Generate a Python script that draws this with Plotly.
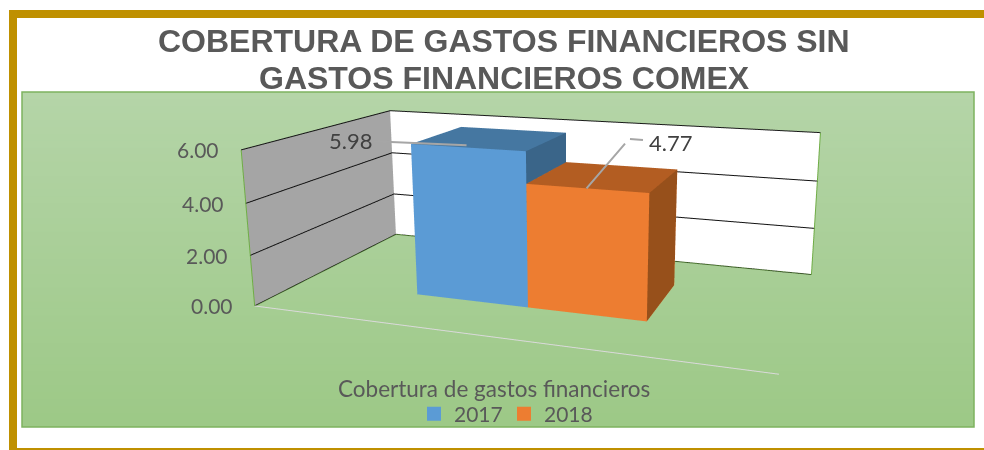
import numpy as np
import plotly.graph_objects as go

years = ["2017", "2018"]
values = [5.98, 4.77]
z_ticks = [0, 2, 4, 6]
title_lines = ["COBERTURA DE GASTOS FINANCIEROS SIN", "GASTOS FINANCIEROS COMEX"]
category = "Cobertura de gastos financieros"

# Page geometry: the scene needs a long lens (plotly's field of view is fixed), so the figure
# is taller and wider than the 984x450 window and is shifted up by SHIFT pixels on the page.
W, H = 1150, 787
SHIFT = 182
x_edges = [0.265, 0.503, 0.739]
y_span = (0.296, 0.701)
palette = [("#5B9BD5", "#4577A1", "#3A6589"), ("#ED7D31", "#B35D22", "#97501B")]

def px2x(v): return v / W
def px2y(v): return 1 - (v + SHIFT) / H

def box(xa, xb, ya, yb, v):
    xs = [xa, xb, xb, xa, xa, xb, xb, xa]
    ys = [ya, ya, yb, yb, ya, ya, yb, yb]
    zs = [0, 0, 0, 0, v, v, v, v]
    return xs, ys, zs

I = [0, 0, 4, 4, 0, 0, 1, 1, 2, 2, 3, 3]
J = [1, 2, 5, 6, 1, 5, 2, 6, 3, 7, 0, 4]
K = [2, 3, 6, 7, 5, 4, 6, 5, 7, 6, 4, 7]

fig = go.Figure()
for n, (yr, v, (front, top, side)) in enumerate(zip(years, values, palette)):
    xs, ys, zs = box(x_edges[n], x_edges[n + 1], y_span[0], y_span[1], v)
    fc = [front, front, top, top, front, front, side, side, front, front, front, front]
    fig.add_trace(go.Mesh3d(x=xs, y=ys, z=zs, i=I, j=J, k=K, facecolor=fc, flatshading=True,
                            lighting=dict(ambient=1, diffuse=0, specular=0, fresnel=0),
                            showscale=False, hoverinfo="skip", showlegend=False))
    fig.add_trace(go.Scatter3d(x=[None], y=[None], z=[None], mode="markers", name=yr,
                               marker=dict(symbol="square", size=14, color=front), showlegend=True))

def frame(xs, ys, zs, color, width):
    fig.add_trace(go.Scatter3d(x=xs, y=ys, z=zs, mode="lines", line=dict(color=color, width=width),
                               showlegend=False, hoverinfo="skip"))

frame([0, 0, None, 1, 1], [0, 0, None, 1, 1], [0, 6, None, 0, 6], "#70AD47", 2)
frame([0, 0, 1], [0, 1, 1], [0, 0, 0], "#4F7A33", 2)
frame([0, 0, 1], [0, 1, 1], [6, 6, 6], "#1A1A1A", 2)
frame([0, 1], [0, 0], [0, 0], "#D9D9D9", 2)

axis_off = dict(showgrid=False, zeroline=False, showline=False, showticklabels=False, showspikes=False,
                title="", ticks="", range=[0, 1])
scene = dict(
    domain=dict(x=[0, 1], y=[0, 1]),
    xaxis=dict(axis_off, showbackground=True, backgroundcolor="#A5A5A5"),
    yaxis=dict(axis_off, showbackground=True, backgroundcolor="#FFFFFF"),
    zaxis=dict(range=[0, 6], tickvals=z_ticks, showticklabels=False, showgrid=True, gridcolor="#111111", gridwidth=2,
               zeroline=False, showline=False, showbackground=False, showspikes=False, title="", ticks=""),
    aspectmode="manual",
    aspectratio=dict(x=2.0, y=1.101, z=0.612),
    camera=dict(eye=dict(x=1.295, y=-3.439, z=0.939), center=dict(x=0.111, y=0.029, z=0.023), up=dict(x=0, y=0, z=1),
                projection=dict(type="perspective")),
    bgcolor="rgba(0,0,0,0)",
)

shapes = []
top_c = np.array([181, 213, 168]); bot_c = np.array([157, 201, 135])
bands = 48
py0, py1 = 92, 427
for i in range(bands):
    col = top_c + (bot_c - top_c) * i / (bands - 1)
    a = py0 + (py1 - py0) * i / bands
    b = min(py1, py0 + (py1 - py0) * (i + 1) / bands + 2)
    shapes.append(dict(type="rect", xref="paper", yref="paper", x0=px2x(22), x1=px2x(974), y0=px2y(a), y1=px2y(b),
                       fillcolor="rgb(%d,%d,%d)" % tuple(col), line=dict(width=0), layer="below"))
shapes.append(dict(type="rect", xref="paper", yref="paper", x0=px2x(22), x1=px2x(974), y0=px2y(92), y1=px2y(427),
                   line=dict(color="#7DB35F", width=1.5), layer="below"))
shapes.append(dict(type="rect", xref="paper", yref="paper", x0=px2x(13), x1=px2x(1100), y0=px2y(14), y1=px2y(452),
                   line=dict(color="#BF9000", width=8), layer="below"))

ann = []
for line, yy in zip(title_lines, (41, 78)):
    ann.append(dict(xref="paper", yref="paper", x=px2x(504), y=px2y(yy), text="<b>%s</b>" % line, showarrow=False,
                    font=dict(family="Liberation Sans", size=32, color="#595959"), xanchor="center", yanchor="middle"))
ann.append(dict(xref="paper", yref="paper", x=px2x(494), y=px2y(388), text=category, showarrow=False,
                font=dict(family="Lato", size=22.5, color="#595959"), xanchor="center", yanchor="middle"))
label_font = dict(family="Lato", size=22, color="#404040")
ann.append(dict(xref="paper", yref="paper", x=px2x(630), y=px2y(139), text=f"{values[1]:.2f}", ax=41, ay=3, borderpad=6,
                showarrow=True, arrowhead=0, arrowcolor="#A6A6A6", arrowwidth=2, font=label_font))

scene["annotations"] = [
    dict(x=x_edges[0] + 0.45 * (x_edges[1] - x_edges[0]), y=y_span[0] + 0.1 * (y_span[1] - y_span[0]), z=values[0],
         text=f"{values[0]:.2f}", ax=-116, ay=-5, showarrow=True, arrowhead=0,
         arrowcolor="#A6A6A6", arrowwidth=2, font=label_font),
    dict(x=(x_edges[1] + x_edges[2]) / 2, y=y_span[0], z=values[1], text=" ", ax=43, ay=-50, showarrow=True, arrowhead=0,
         arrowcolor="#A6A6A6", arrowwidth=2, font=label_font),
] + [
    dict(x=0, y=0, z=t, text=f"{t:.2f}", showarrow=False, xanchor="right", yanchor="middle", xshift=-20,
         font=dict(family="Lato", size=21, color="#595959"))
    for t in z_ticks
]

fig.update_layout(width=W, height=H, margin=dict(l=0, r=0, t=0, b=0), paper_bgcolor="#FFFFFF", scene=scene,
                  shapes=shapes, annotations=ann, showlegend=True,
                  legend=dict(orientation="h", x=px2x(414), y=px2y(414), xanchor="left", yanchor="middle",
                              font=dict(family="Lato", size=21, color="#595959"), bgcolor="rgba(0,0,0,0)",
                              itemwidth=30, entrywidth=45, entrywidthmode="pixels"))
fig.write_html("out.html", config=dict(displayModeBar=False),
               post_script="document.body.style.margin='0';document.body.style.marginTop='-%dpx';"
                           "document.documentElement.style.overflow='hidden';document.body.style.overflow='hidden';" % SHIFT)
